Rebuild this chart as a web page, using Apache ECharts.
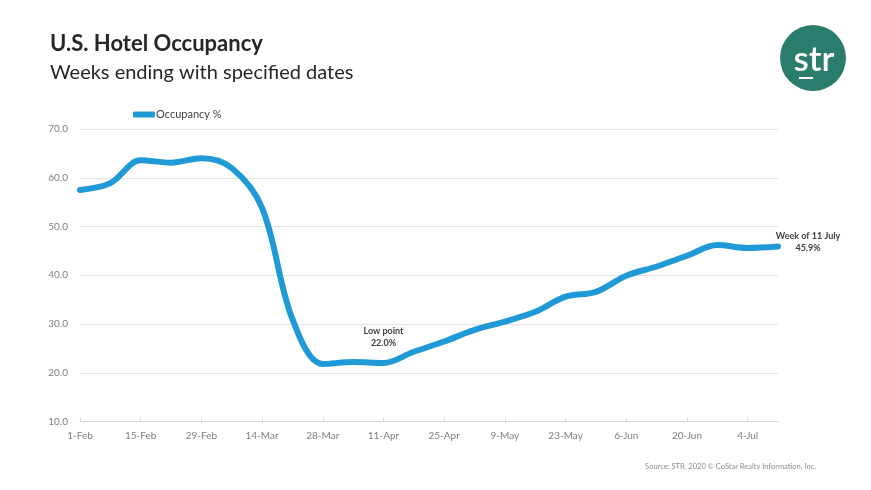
<!DOCTYPE html>
<html>
<head>
<meta charset="utf-8">
<script src="https://cdn.jsdelivr.net/npm/echarts@6/dist/echarts.min.js"></script>
<style>
html,body{margin:0;padding:0;background:#fff;}
#c{width:871px;height:490px;}
</style>
</head>
<body>
<div id="c"></div>
<script>
const weeks = ['1-Feb','8-Feb','15-Feb','22-Feb','29-Feb','7-Mar','14-Mar','21-Mar','28-Mar','4-Apr','11-Apr','18-Apr','25-Apr','2-May','9-May','16-May','23-May','30-May','6-Jun','13-Jun','20-Jun','27-Jun','4-Jul','11-Jul'];
const occupancy = [57.5,58.9,63.6,63.1,64.0,62.0,53.8,31.0,21.8,22.2,22.0,24.3,26.4,28.8,30.5,32.5,35.6,36.6,39.9,41.8,44.0,46.2,45.6,45.9];
const yTicks = [10,20,30,40,50,60,70];
const seriesName = 'Occupancy %';
const lowLabel = ['Low point','22.0%'];
const lastLabel = ['Week of 11 July','45.9%'];

const FONT = 'Lato, "Open Sans", sans-serif';
const chart = echarts.init(document.getElementById('c'));
chart.setOption({
  backgroundColor: '#ffffff',
  animation: false,
  textStyle: {fontFamily: FONT},
  title: [
    {text: 'U.S. Hotel Occupancy', left: 45, top: 28,
     textStyle: {fontFamily: FONT, fontSize: 22, fontWeight: 'bold', color: '#262626'}},
    {text: 'Weeks ending with specified dates', left: 45, top: 58,
     textStyle: {fontFamily: FONT, fontSize: 20, fontWeight: 'normal', color: '#262626'}},
    {text: 'Source: STR. 2020 © CoStar Realty Information, Inc.', right: 50, top: 458,
     textStyle: {fontFamily: FONT, fontSize: 7.5, fontWeight: 'normal', color: '#8c8c8c'}}
  ],
  legend: {
    left: 128, top: 104,
    itemWidth: 22, itemHeight: 6, itemGap: 4,
    icon: 'roundRect',
    textStyle: {fontFamily: FONT, fontSize: 11, color: '#404040', padding: [0,0,0,-4]},
    data: [seriesName]
  },
  grid: {left: 80, right: 93, top: 129, bottom: 68.5, containLabel: false},
  xAxis: {
    type: 'category',
    data: weeks,
    boundaryGap: false,
    axisLine: {lineStyle: {color: '#d9d9d9'}},
    axisTick: {show: true, inside: true, length: 4, interval: 1, lineStyle: {color: '#d9d9d9'}},
    axisLabel: {interval: 1, color: '#7f7f7f', fontSize: 10, fontFamily: FONT, margin: 9},
    splitLine: {show: false}
  },
  yAxis: {
    type: 'value',
    min: yTicks[0], max: yTicks[yTicks.length-1], interval: 10,
    axisLine: {show: false},
    axisTick: {show: false},
    axisLabel: {color: '#7f7f7f', fontSize: 10, fontFamily: FONT, margin: 12,
      formatter: v => v.toFixed(1)},
    splitLine: {lineStyle: {color: '#e3e3e3'}}
  },
  series: [{
    name: seriesName,
    type: 'line',
    data: occupancy,
    smooth: 0.35,
    symbol: 'none',
    lineStyle: {width: 6, color: '#1f9ad6', cap: 'round'},
    itemStyle: {color: '#1f9ad6'},
    markPoint: {
      symbol: 'circle', symbolSize: 0,
      label: {show: true, fontFamily: FONT, fontSize: 9, fontWeight: 'bold', color: '#404040',
        lineHeight: 12, align: 'center'},
      data: [
        {coord: [weeks[10], occupancy[10]],
         label: {formatter: lowLabel.join('\n'), position: 'inside', offset: [0, -26]}},
        {coord: [weeks[23], occupancy[23]],
         label: {formatter: lastLabel.join('\n'), position: 'inside', offset: [30, -4]}}
      ]
    }
  }],
  graphic: [
    {type: 'circle', shape: {cx: 813, cy: 58, r: 33}, style: {fill: '#2a7d6d'}},
    {type: 'text', x: 814, y: 60, style: {text: 'str', fill: '#ffffff',
      font: '600 35px ' + FONT, align: 'center', verticalAlign: 'middle'}},
    {type: 'rect', shape: {x: 799, y: 77, width: 14, height: 2}, style: {fill: '#ffffff'}}
  ]
});
</script>
</body>
</html>
